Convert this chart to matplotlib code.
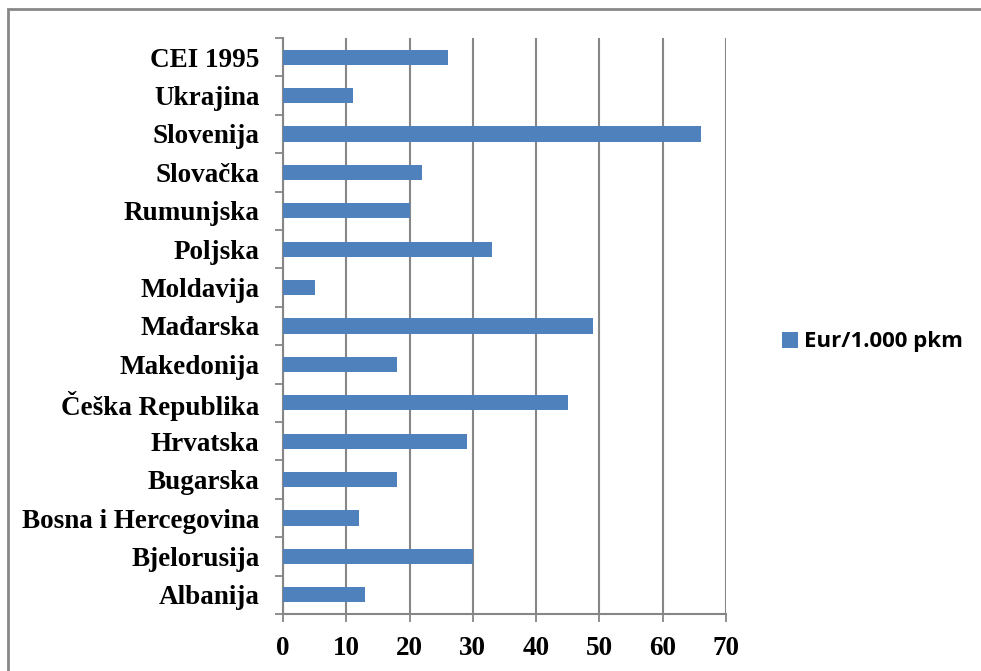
import matplotlib.pyplot as plt
from matplotlib.patches import Rectangle

countries = ['Albanija', 'Bjelorusija', 'Bosna i Hercegovina', 'Bugarska', 'Hrvatska',
             'Češka Republika', 'Makedonija', 'Mađarska', 'Moldavija', 'Poljska',
             'Rumunjska', 'Slovačka', 'Slovenija', 'Ukrajina', 'CEI 1995']
eur_pkm = [13, 30, 12, 18, 29, 45, 18, 49, 5, 33, 20, 22, 66, 11, 26]
series_name = 'Eur/1.000 pkm'
xticks = [0, 10, 20, 30, 40, 50, 60, 70]

bar_color = '#4F81BD'
grid_color = '#868686'

fig = plt.figure(figsize=(9.81, 6.71), dpi=100)
ax = fig.add_axes([283 / 981, 1 - 614 / 671, (726 - 283) / 981, (614 - 38) / 671])

ypos = list(range(len(countries)))
ax.barh(ypos, eur_pkm, height=0.4, color=bar_color, label=series_name, zorder=3)

ax.set_xlim(0, 70)
ax.set_ylim(-0.5, len(countries) - 0.5)
ax.set_xticks(xticks)
ax.set_xticklabels([str(t) for t in xticks], fontfamily='Liberation Serif',
                   fontweight='bold', fontsize=19.5)
# category labels sit between the boundary ticks
ax.set_yticks([y - 0.5 for y in ypos] + [len(countries) - 0.5])
ax.set_yticklabels([])
ax.set_yticks(ypos, minor=True)
ax.set_yticklabels(countries, minor=True, fontfamily='Liberation Serif',
                   fontweight='bold', fontsize=19.5)
ax.tick_params(axis='y', which='minor', length=0, pad=17)
ax.tick_params(axis='y', which='major', length=6, width=1.3, color=grid_color)
ax.tick_params(axis='x', length=6, width=1.3, color=grid_color, pad=10)

ax.xaxis.grid(True, color=grid_color, linewidth=1.5, zorder=0)
for s in ['top', 'right']:
    ax.spines[s].set_visible(False)
for s in ['left', 'bottom']:
    ax.spines[s].set_color(grid_color)
    ax.spines[s].set_linewidth(1.5)

leg = fig.legend(loc='center left', bbox_to_anchor=(762 / 981, 1 - 342 / 671),
                 frameon=False, handlelength=0.7, handleheight=0.7, handletextpad=0.3,
                 prop={'family': 'Open Sans', 'weight': 'bold', 'size': 16})

# outer chart frame
fig.patches.append(Rectangle((8 / 981, -0.1), 1.2, 1 - 9 / 671 + 0.1,
                             transform=fig.transFigure, fill=False,
                             edgecolor='#888888', linewidth=2))

fig.savefig('out.png', dpi=100)
